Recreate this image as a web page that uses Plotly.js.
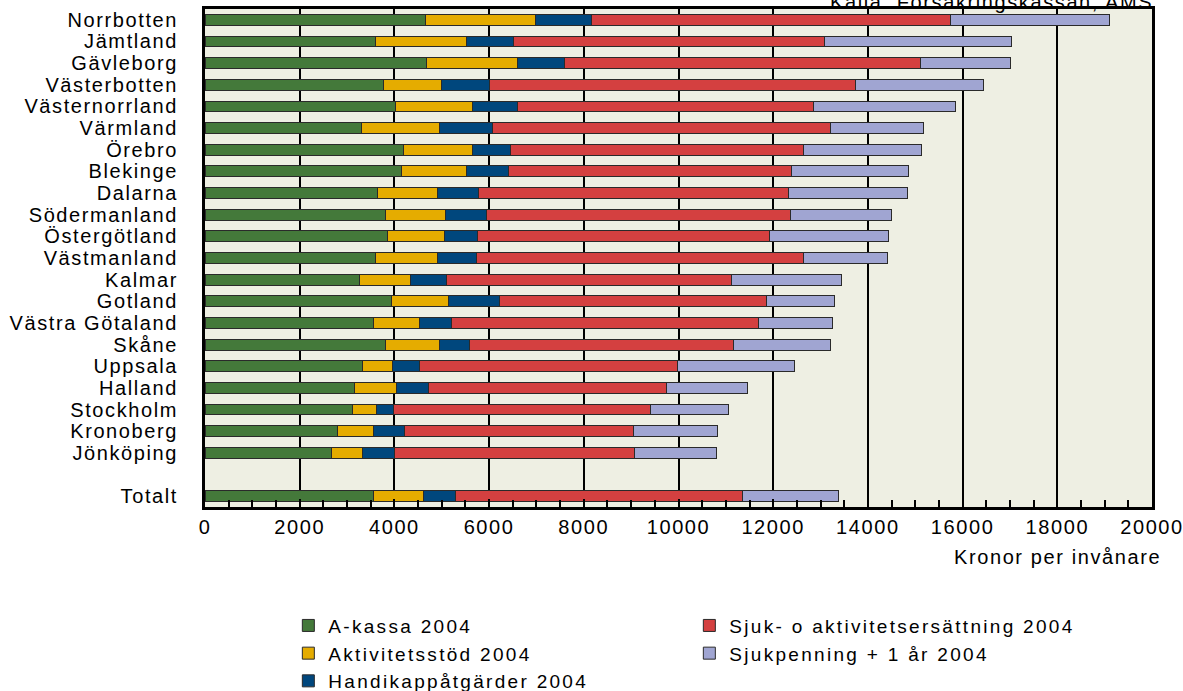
<!DOCTYPE html>
<html>
<head>
<meta charset="utf-8">
<script src="https://cdn.plot.ly/plotly-3.0.1.min.js"></script>
<style>
body{margin:0;padding:0;background:#fff}
svg text{letter-spacing:1.6px}
svg .legend text{letter-spacing:2.3px}
</style>
</head>
<body>
<div id="chart" style="width:1183px;height:691px"></div>
<script>
// Categories (top to bottom); '\u00a0' is the empty spacer row before the total
const regions = ['Norrbotten','Jämtland','Gävleborg','Västerbotten','Västernorrland','Värmland','Örebro','Blekinge','Dalarna','Södermanland','Östergötland','Västmanland','Kalmar','Gotland','Västra Götaland','Skåne','Uppsala','Halland','Stockholm','Kronoberg','Jönköping','\u00a0','Totalt'];

// Kronor per invånare, 2004
const akassa   = [4650,3600,4680,3760,4015,3300,4200,4150,3640,3820,3850,3600,3260,3940,3560,3815,3325,3155,3115,2790,2665,null,3560];
const aktivitet = [2330,1920,1930,1230,1640,1660,1445,1375,1260,1265,1200,1300,1070,1210, 970,1140, 640, 890, 500, 770, 665,null,1050];
const handikapp = [1190,1005, 990,1020, 945,1110, 805, 885, 880, 855, 700, 830, 780,1080, 670, 630, 570, 665, 370, 660, 675,null, 690];
const sjukakt   = [7570,6550,7510,7720,6260,7140,6180,5975,6535,6435,6180,6900,6000,5635,6485,5575,5440,5045,5415,4830,5060,null,6055];
const sjukpenn  = [3360,3960,1910,2720,2980,1970,2505,2470,2520,2130,2500,1790,2330,1440,1565,2040,2465,1710,1650,1770,1735,null,2025];

const seriesNames = ['A-kassa 2004','Aktivitetsstöd 2004','Handikappåtgärder 2004','Sjuk- o aktivitetsersättning 2004','Sjukpenning + 1 år 2004'];
const seriesData = [akassa, aktivitet, handikapp, sjukakt, sjukpenn];
const seriesColors = ['#44793A','#E5AC00','#00477D','#D44040','#A0A5D2'];
const legendRanks = [1,3,5,2,4];

const traces = seriesData.map((vals, i) => ({
  type: 'bar',
  orientation: 'h',
  name: seriesNames[i],
  y: regions,
  x: vals,
  marker: {color: seriesColors[i], line: {color: '#2a2a2a', width: 1}},
  legendrank: legendRanks[i],
  hoverinfo: 'x+y+name'
}));

const font = 'Liberation Sans, Arial, sans-serif';

const layout = {
  width: 1183, height: 691,
  margin: {l: 205, r: 31, t: 9, b: 184, autoexpand: false},
  paper_bgcolor: '#ffffff',
  plot_bgcolor: '#EEEFE3',
  barmode: 'stack',
  bargap: 0.5,
  font: {family: font, size: 20, color: '#000'},
  showlegend: true,
  legend: {
    orientation: 'h', x: 0.088, xanchor: 'left', y: -0.2, yanchor: 'top',
    traceorder: 'normal', entrywidth: 356, entrywidthmode: 'pixels',
    font: {family: font, size: 19, color: '#000'}, bgcolor: 'rgba(0,0,0,0)'
  },
  xaxis: {
    range: [0, 20000], dtick: 2000, tick0: 0, tickformat: 'd',
    showgrid: true, gridcolor: '#000', gridwidth: 2,
    zeroline: false,
    showline: true, linecolor: '#000', linewidth: 3, mirror: true,
    ticks: 'inside', ticklen: 8, tickwidth: 2, tickcolor: '#000',
    minor: {dtick: 500, ticks: 'inside', ticklen: 7, tickwidth: 2, tickcolor: '#000', showgrid: false},
    tickfont: {family: font, size: 20, color: '#000'},
    ticklabelstandoff: 0, ticklabeloverflow: 'allow',
    fixedrange: true
  },
  yaxis: {
    type: 'category', categoryorder: 'array', categoryarray: regions,
    tickmode: 'array', tickvals: regions, ticktext: regions,
    autorange: 'reversed',
    showgrid: false, zeroline: false,
    showline: true, linecolor: '#000', linewidth: 3, mirror: true,
    ticks: '', tickfont: {family: font, size: 20, color: '#000'},
    ticklabelstandoff: 20,
    fixedrange: true
  },
  annotations: [
    {text: 'Källa: Försäkringskassan, AMS', xref: 'paper', yref: 'paper', x: 1.003, y: 1.015,
     xanchor: 'right', yanchor: 'middle', showarrow: false, font: {family: font, size: 20, color: '#000'}},
    {text: 'Kronor per invånare', xref: 'paper', yref: 'paper', x: 1.0116, y: -0.1,
     xanchor: 'right', yanchor: 'middle', showarrow: false, font: {family: font, size: 20, color: '#000'}}
  ]
};

Plotly.newPlot('chart', traces, layout, {displayModeBar: false});
</script>
</body>
</html>
